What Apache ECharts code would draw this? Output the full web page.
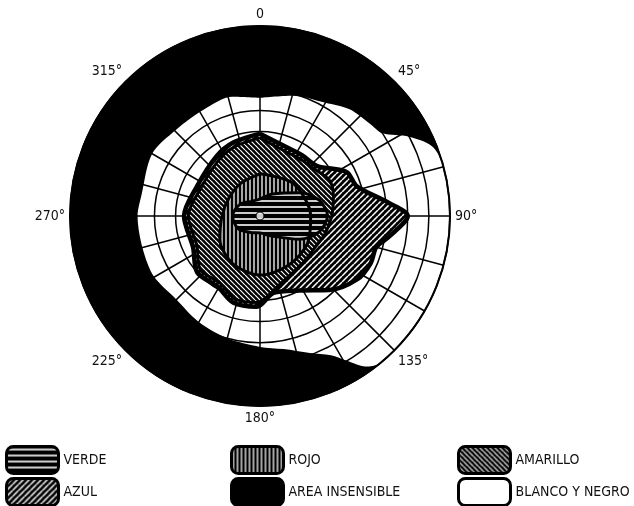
<!DOCTYPE html>
<html>
<head>
<meta charset="utf-8">
<script src="https://cdn.jsdelivr.net/npm/echarts@6/dist/echarts.min.js"></script>
<style>
  html, body { margin: 0; padding: 0; background: #fff; }
  #chart { width: 634px; height: 506px; }
</style>
</head>
<body>
<div id="chart"></div>
<script>
// etiquetas del eje angular (cada 45 grados)
const angleLabels = ['0', '45°', '90°', '135°', '180°', '225°', '270°', '315°']

// campo blanco y negro (grados de excentricidad por meridiano)
const whiteAngles = [0, 15, 30, 40, 50, 56, 62, 68, 75, 90, 105, 120, 135, 141, 145, 149, 153, 160, 170, 180, 195, 210, 225, 243, 270, 280, 300, 316, 332, 347, 360]
const whiteR = [56, 59, 62, 66, 68, 70, 80, 88, 90, 90, 90, 90, 90, 90, 87, 80, 74, 69, 64, 62, 60, 58, 56, 58, 58, 57, 59, 57, 57, 58, 56]

// azul
const azulAngles = [0, 20, 35, 49, 63, 73, 84, 90, 99, 105, 113, 123, 137, 152, 170, 182, 197, 211, 228, 245, 270, 295, 324, 340, 360]
const azulR = [39, 35, 35, 36, 46, 48, 61, 70, 62, 57, 57, 55, 48, 40, 37, 43, 43, 39, 40, 35, 36, 33, 35, 37, 39]

// amarillo
const amarilloAngles = [0, 20, 35, 49, 63, 75, 90, 105, 120, 135, 150, 165, 182, 197, 211, 228, 245, 270, 295, 324, 340, 360]
const amarilloR = [37, 33, 33, 34, 37, 36, 34, 32, 30, 30, 31, 34, 41, 41, 37, 38, 33, 34, 31, 33, 35, 37]

// rojo
const rojoAngles = [0, 45, 90, 120, 150, 180, 210, 240, 270, 300, 330, 360]
const rojoR = [20, 22, 24, 26, 27, 28, 26, 22, 18, 17, 18, 20]

// verde
const verdeAngles = [0, 30, 60, 75, 90, 105, 120, 150, 180, 210, 240, 270, 300, 330, 360]
const verdeR = [8, 12, 22, 29, 32, 29, 22, 11, 8, 9, 12, 13, 11, 8, 8]

const FONT = "'DejaVu Sans Condensed', 'DejaVu Sans', sans-serif"

// tramas rayadas (fondo negro, rayas blancas)
function stripes (kind, w, s) {
  const c = document.createElement('canvas')
  c.width = s
  c.height = s
  const g = c.getContext('2d')
  g.fillStyle = '#000'
  g.fillRect(0, 0, s, s)
  g.strokeStyle = '#fff'
  g.lineWidth = w
  g.beginPath()
  if (kind === 'h') { g.moveTo(0, s / 2); g.lineTo(s, s / 2) }
  else if (kind === 'v') { g.moveTo(s / 2, 0); g.lineTo(s / 2, s) }
  else if (kind === '/') { for (let k = -1; k <= 1; k++) { g.moveTo(k * s, s); g.lineTo(k * s + s, 0) } }
  else { for (let k = -1; k <= 1; k++) { g.moveTo(k * s, 0); g.lineTo(k * s + s, s) } }
  g.stroke()
  return { image: c, repeat: 'repeat' }
}

const patVerde = stripes('h', 1.6, 6)
const patAzul = stripes('/', 1.5, 6)
const patRojo = stripes('v', 1.3, 4)
const patAmarillo = stripes('\\', 1.2, 5)

const toData = (angles, r) => angles.map((a, i) => [r[i], a])

function region (name, angles, r, fill, lineWidth, z) {
  return {
    name: name,
    type: 'line',
    coordinateSystem: 'polar',
    data: toData(angles, r),
    showSymbol: false,
    smooth: 0.3,
    silent: true,
    z: z,
    lineStyle: { color: '#000', width: lineWidth },
    areaStyle: { color: fill, opacity: 1 },
  }
}

// una leyenda por elemento (2 filas x 3 columnas)
function legendItem (name, color, left, top) {
  return {
    left: left,
    top: top,
    itemWidth: 52,
    itemHeight: 27,
    icon: 'roundRect',
    selectedMode: false,
    textStyle: { fontFamily: FONT, fontSize: 14, color: '#111' },
    data: [{ name: name, itemStyle: { color: color, borderColor: '#000', borderWidth: 3 } }],
  }
}

const chart = echarts.init(document.getElementById('chart'))
chart.setOption({
  animation: false,
  polar: { center: [260, 216], radius: 190 },
  angleAxis: {
    type: 'value',
    min: 0,
    max: 360,
    interval: 15,
    startAngle: 90,
    clockwise: true,
    z: 3,
    axisLine: { show: true, lineStyle: { color: '#000', width: 2 } },
    axisTick: { show: false },
    splitLine: { show: true, lineStyle: { color: '#000', width: 1.5 } },
    axisLabel: {
      margin: 5,
      fontFamily: FONT,
      fontSize: 14,
      color: '#111',
      formatter: v => (v % 45 === 0 && v < 360) ? angleLabels[v / 45] : '',
    },
  },
  radiusAxis: {
    type: 'value',
    min: 0,
    max: 90,
    interval: 10,
    z: 3,
    axisLine: { show: false },
    axisTick: { show: false },
    axisLabel: { show: false },
    splitLine: { show: true, lineStyle: { color: '#000', width: 1.5 } },
  },
  legend: [
    legendItem('VERDE', patVerde, 0, 440),
    legendItem('AZUL', patAzul, 0, 472),
    legendItem('ROJO', patRojo, 225, 440),
    legendItem('AREA INSENSIBLE', '#000', 225, 472),
    legendItem('AMARILLO', patAmarillo, 452, 440),
    legendItem('BLANCO Y NEGRO', '#fff', 452, 472),
  ],
  series: [
    {
      type: 'pie',
      name: 'AREA INSENSIBLE',
      center: [260, 216],
      radius: 190,
      silent: true,
      z: 0,
      label: { show: false },
      labelLine: { show: false },
      itemStyle: { color: '#000' },
      data: [{ name: 'AREA INSENSIBLE', value: 1 }],
    },
    Object.assign(region('BLANCO Y NEGRO', whiteAngles, whiteR, '#fff', 0, 2), { lineStyle: { width: 0 } }),
    region('AZUL', azulAngles, azulR, patAzul, 4.5, 5),
    region('AMARILLO', amarilloAngles, amarilloR, patAmarillo, 3, 5),
    region('ROJO', rojoAngles, rojoR, patRojo, 3, 5),
    region('VERDE', verdeAngles, verdeR, patVerde, 3, 5),
    {
      name: 'fijacion',
      type: 'scatter',
      coordinateSystem: 'polar',
      data: [[0, 0]],
      symbolSize: 8,
      silent: true,
      z: 6,
      itemStyle: { color: '#fff', borderColor: '#000', borderWidth: 1.5 },
    },
  ],
})
</script>
</body>
</html>
